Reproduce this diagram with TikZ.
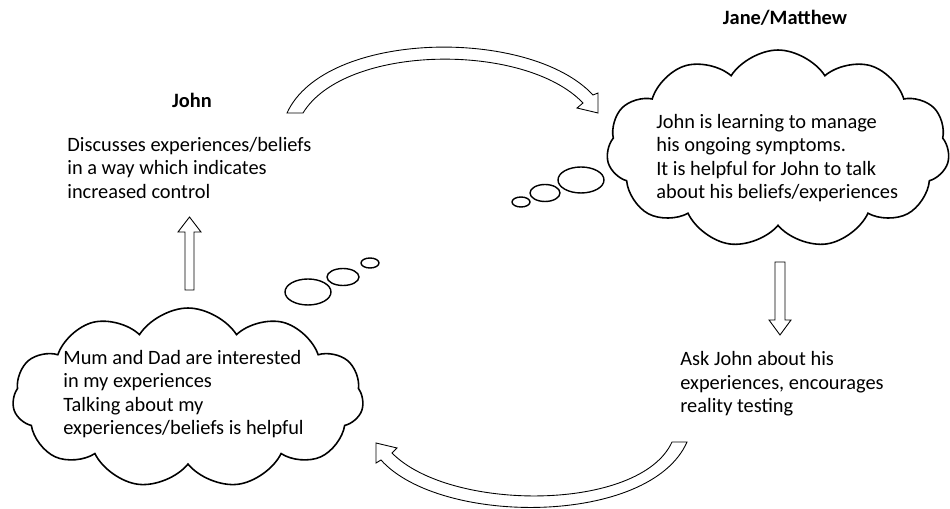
\documentclass[tikz,border=0pt]{standalone}
\usepackage{fontspec}
\setmainfont{Carlito}
\usetikzlibrary{shapes.symbols, shapes.geometric}

\begin{document}
\begin{tikzpicture}[
    x = 0.02cm,
    y = -0.02cm,
    thought/.style = {draw,
      cloud, cloud puffs = 11, cloud puff arc = 115,
      cloud ignores aspect,
      line width = 0.9pt,
      inner sep = 0pt},
    bubble/.style = {draw, ellipse, line width = 0.8pt, inner sep = 0pt},
    words/.style = {anchor = west, align = left, inner sep = 0pt,
      font = \fontsize{11.6}{13.4}\selectfont},
    heading/.style = {inner sep = 0pt,
      font = \fontsize{11.6}{13.4}\selectfont\bfseries},
    hollow/.style = {draw, fill = white, line width = 0.5pt},
    ]

    \useasboundingbox (0, 0) rectangle (950, 509);

    \node at (778, 149)
    [thought, minimum width = 6.86cm, minimum height = 3.96cm,
      name = jane_cloud] {};
    \node at (188, 398)
    [thought, minimum width = 7.02cm, minimum height = 3.6cm,
      name = john_cloud] {};

    \node at (192, 100) [heading, name = john_head] {John};
    \node at (785, 18) [heading, name = jane_head] {Jane/Matthew};

    \node at (67, 168) [words, name = john_says]
    {Discusses experiences/beliefs\\
      in a way which indicates\\
      increased control};
    \node at (656, 158) [words, name = jane_thinks]
    {John is learning to manage\\
      his ongoing symptoms.\\
      It is helpful for John to talk\\
      about his beliefs/experiences};
    \node at (680, 384) [words, name = jane_does]
    {Ask John about his\\
      experiences, encourages\\
      reality testing};
    \node at (63, 394) [words, name = john_thinks]
    {Mum and Dad are interested\\
      in my experiences\\
      Talking about my\\
      experiences/beliefs is helpful};

    % thought bubbles
    \node at (581, 180) [bubble, minimum width = 0.92cm,
      minimum height = 0.52cm, name = jane_big] {};
    \node at (545, 193) [bubble, minimum width = 0.6cm,
      minimum height = 0.34cm, name = jane_mid] {};
    \node at (521, 202) [bubble, minimum width = 0.36cm,
      minimum height = 0.2cm, name = jane_small] {};

    \node at (308, 292) [bubble, minimum width = 0.92cm,
      minimum height = 0.52cm, name = john_big] {};
    \node at (343, 277) [bubble, minimum width = 0.64cm,
      minimum height = 0.34cm, name = john_mid] {};
    \node at (370, 263) [bubble, minimum width = 0.36cm,
      minimum height = 0.2cm, name = john_small] {};

    % straight block arrows
    \coordinate (rise) at (189.5, 290);
    \draw [hollow] (rise) ++(-4.5, 0) -- ++(0, -58) -- ++(-7, 0)
    -- ++(11.5, -15) -- ++(11.5, 15) -- ++(-7, 0) -- ++(0, 58) -- cycle;

    \coordinate (fall) at (780, 262);
    \draw [hollow] (fall) ++(-5, 0) -- ++(0, 58) -- ++(-6, 0)
    -- ++(11, 15) -- ++(11, -15) -- ++(-6, 0) -- ++(0, -58) -- cycle;

    % curved block arrows
    \coordinate (over_tail) at (287, 113);
    \coordinate (over_tip) at (598, 113);
    \draw [hollow] (over_tail) .. controls (325, 30) and (530, 27) .. (593, 95)
    -- (598, 93) -- (over_tip) -- (577, 108) -- (583, 103)
    .. controls (525, 42) and (345, 44) .. (303, 113) -- cycle;

    \coordinate (under_tail) at (687, 442);
    \coordinate (under_tip) at (376, 443);
    \draw [hollow] (under_tail) .. controls (650, 526) and (440, 526) .. (381, 460)
    -- (376, 463) -- (under_tip) -- (397, 448) -- (392, 453)
    .. controls (450, 512) and (640, 512) .. (672, 442) -- cycle;

  \end{tikzpicture}
\end{document}
